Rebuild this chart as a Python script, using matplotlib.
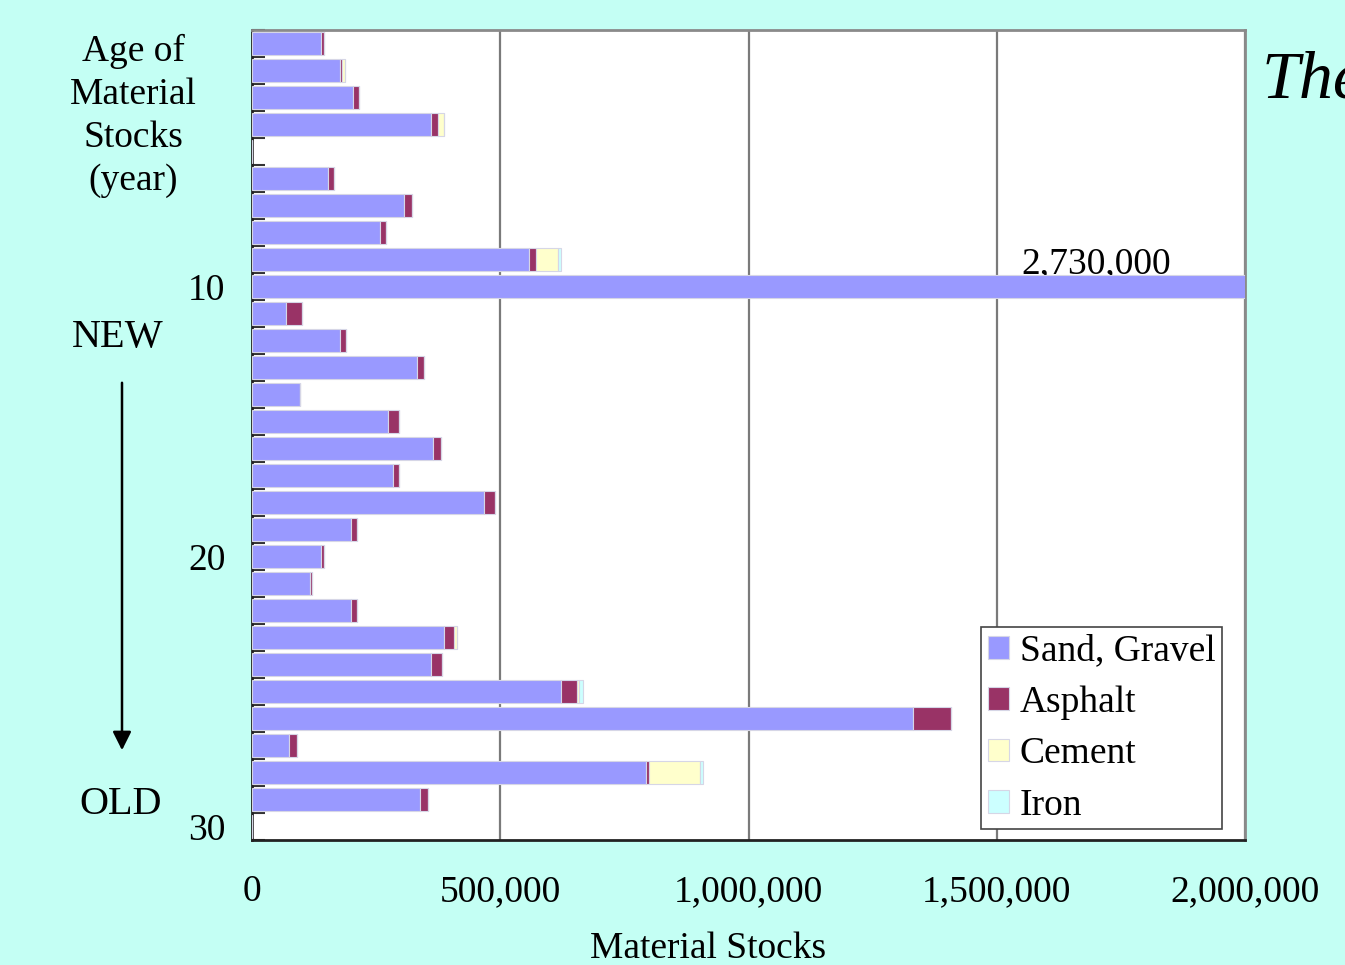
import numpy as np
import matplotlib
matplotlib.use("Agg")
import matplotlib.pyplot as plt
from matplotlib.patches import FancyArrowPatch

plt.rcParams.update({
    'font.family': ['Liberation Serif', 'DejaVu Serif'],
    'figure.facecolor': '#c4fff4',
})

SAND_C = '#9999ff'
ASPH_C = '#993366'
CEM_C = '#ffffcc'
IRON_C = '#ccffff'

# age of stocks, 1 (new) .. 30 (old)
ages = list(range(1, 31))
sand = [139000, 177000, 203000, 360000, 0, 154000, 305500, 257000, 557000, 2730000,
        67800, 176600, 331700, 96000, 273300, 364000, 284000, 466600, 198700, 138300,
        116200, 198700, 386000, 360000, 621700, 1331000, 73900, 792900, 337700, 0]
asphalt = [5400, 3400, 12000, 14700, 0, 12000, 16000, 12000, 15300, 0,
           33500, 12000, 15300, 0, 22000, 16000, 11400, 22000, 12000, 6000,
           5400, 12000, 20700, 22000, 32900, 76500, 16100, 6000, 16100, 0]
cement = [0, 7000, 0, 11400, 0, 0, 0, 0, 44300, 0,
          0, 0, 0, 0, 0, 0, 0, 0, 0, 0,
          0, 0, 6700, 0, 4000, 0, 0, 102700, 0, 0]
iron = [0, 0, 0, 0, 0, 0, 0, 0, 5400, 0,
        0, 0, 0, 0, 0, 0, 0, 0, 0, 0,
        0, 0, 0, 0, 7400, 0, 0, 6700, 0, 0]
x_ticks = [0, 500000, 1000000, 1500000, 2000000]
y_labels = {10: '10', 20: '20', 30: '30'}

fig = plt.figure(figsize=(13.45, 9.65), dpi=100)
ax = fig.add_axes([252 / 1345, 1 - 840 / 965, 993 / 1345, 810 / 965])
ax.set_facecolor('white')

y = np.array(ages)
s = np.array(sand, float)
a = np.array(asphalt, float)
c = np.array(cement, float)
i = np.array(iron, float)

kw = dict(height=0.88, edgecolor='#d6d6e6', linewidth=0.8, zorder=3)
ax.barh(y, s, color=SAND_C, label='Sand, Gravel', **kw)
ax.barh(y, a, left=s, color=ASPH_C, label='Asphalt', **kw)
ax.barh(y, c, left=s + a, color=CEM_C, label='Cement', **kw)
ax.barh(y, i, left=s + a + c, color=IRON_C, label='Iron', **kw)

ax.set_xlim(0, 2000000)
ax.set_ylim(30.5, 0.5)

ax.set_xticks(x_ticks)
ax.set_xticklabels([f'{v:,}' for v in x_ticks])
ax.tick_params(axis='x', length=0, pad=25, labelsize=27)
ax.set_yticks(list(y_labels.keys()))
ax.set_yticklabels(list(y_labels.values()))
ax.set_yticks(np.arange(0.5, 31, 1), minor=True)
ax.tick_params(axis='y', which='major', length=0, pad=19, labelsize=27)
ax.tick_params(axis='y', which='minor', direction='in', length=9, width=1.5, color='#333333')

ax.xaxis.grid(True, color='#7a7a7a', linewidth=1.6, zorder=1)
ax.set_axisbelow(True)
for side in ['top', 'right']:
    ax.spines[side].set_color('#8a8a8a')
    ax.spines[side].set_linewidth(2)
for side in ['left', 'bottom']:
    ax.spines[side].set_color('#222222')
    ax.spines[side].set_linewidth(2)

ax.set_xlabel('Material Stocks', fontsize=27, va='baseline')
ax.xaxis.set_label_coords(0.459, -0.1457)

# value of the clipped bar
ax.text(1700000, 9.52, '2,730,000', fontsize=27, ha='center', va='baseline', zorder=2)

leg = ax.legend(loc='lower right', bbox_to_anchor=(0.977, 0.013), fontsize=27,
                frameon=True, fancybox=False, edgecolor='#444444', framealpha=1,
                handlelength=0.55, handleheight=0.55, handletextpad=0.3,
                labelspacing=0.45, borderpad=0.18, borderaxespad=0)
leg.get_frame().set_linewidth(1.2)

fig.text(133 / 1345, 1 - 116 / 965, 'Age of\nMaterial\nStocks\n(year)', fontsize=27,
         ha='center', va='center', linespacing=1.31)
fig.text(118 / 1345, 1 - 338 / 965, 'NEW', fontsize=29, ha='center', va='center')
fig.text(121 / 1345, 1 - 805 / 965, 'OLD', fontsize=29, ha='center', va='center')
fig.add_artist(FancyArrowPatch((122 / 1345, 1 - 380 / 965), (122 / 1345, 1 - 753 / 965),
                               transform=fig.transFigure, arrowstyle='-|>',
                               mutation_scale=28, color='black', linewidth=1.8))
fig.text(1262 / 1345, 1 - 97 / 965, 'The', fontsize=49, style='italic',
         ha='left', va='baseline')

fig.savefig('out.png', dpi=100, facecolor=fig.get_facecolor())
